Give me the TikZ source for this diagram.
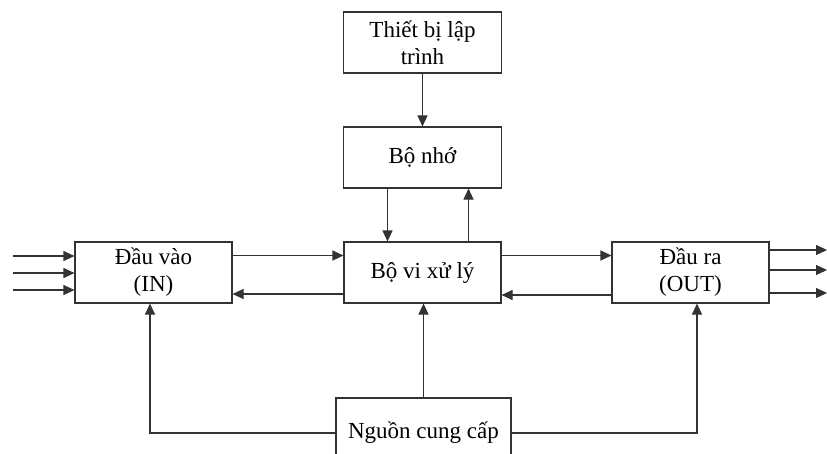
\documentclass[tikz,border=0pt]{standalone}
\usepackage{fontspec}
\setmainfont{Liberation Serif}
\usetikzlibrary{arrows.meta}
\begin{document}
\begin{tikzpicture}[x=1pt,y=-1pt,
  blk/.style={draw=black!80,line width=1.1pt,rectangle,align=center,inner sep=0pt,
    font=\fontsize{23}{27}\selectfont},
  arr/.style={draw=black!80,line width=1.1pt,-{Triangle[length=11pt,width=10pt]}},
  wire/.style={draw=black!80,line width=1.1pt}]
\useasboundingbox (0,0) rectangle (827,453);
% blocks
\node[blk,minimum width=158pt,minimum height=61pt] (prog) at (422.5,42.5) {Thiết bị lập\\trình};
\node[blk,minimum width=158pt,minimum height=61pt] (mem) at (422.5,157.5) {Bộ nhớ};
\node[blk,minimum width=157pt,minimum height=61pt] (cpu) at (422.5,272.5) {Bộ vi xử lý};
\node[blk,minimum width=157pt,minimum height=61pt] (in) at (153.5,272.5) {Đầu vào\\(IN)};
\node[blk,minimum width=157pt,minimum height=61pt] (out) at (690.5,272.5) {Đầu ra\\(OUT)};
\node[blk,minimum width=175pt,minimum height=70pt] (psu) at (423.5,433) {Nguồn cung cấp};
% programmer and memory
\draw[arr] (prog.south) -- (mem.north);
\draw[arr] ([xshift=-35pt]mem.south) -- ([xshift=-35pt]cpu.north);
\draw[arr] ([xshift=46pt]cpu.north) -- ([xshift=46pt]mem.south);
% data paths
\draw[arr] ([yshift=17pt]in.east) -- ([yshift=17pt]cpu.west);
\draw[arr] ([yshift=-21.5pt]cpu.west) -- ([yshift=-21.5pt]in.east);
\draw[arr] ([yshift=17pt]cpu.east) -- ([yshift=17pt]out.west);
\draw[arr] ([yshift=-22.5pt]out.west) -- ([yshift=-22.5pt]cpu.east);
% field inputs
\coordinate (i1) at (13,256);
\coordinate (i2) at (13,273);
\coordinate (i3) at (13,290);
\foreach \c in {i1,i2,i3} \draw[arr] (\c) -- (\c -| in.west);
% field outputs
\coordinate (o1) at (827,250);
\coordinate (o2) at (827,270);
\coordinate (o3) at (827,293);
\foreach \c in {o1,o2,o3} \draw[arr] (\c -| out.east) -- (\c);
% power supply
\draw[arr] (psu.north) -- (psu.north |- cpu.south);
\draw[arr] (psu.west) -| ([xshift=-3.5pt]in.south);
\draw[arr] (psu.east) -| ([xshift=6.5pt]out.south);
\end{tikzpicture}
\end{document}
